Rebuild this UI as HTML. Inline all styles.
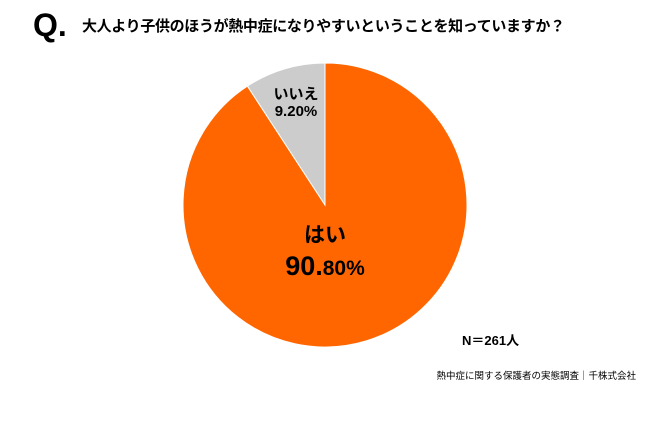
<!DOCTYPE html>
<html><head><meta charset="utf-8"><style>
body{margin:0;background:#fff;}
svg{display:block;font-family:"Liberation Sans","Noto Sans CJK JP",sans-serif;}
</style></head><body>
<svg width="650" height="427" viewBox="0 0 650 427">
<text x="33" y="36" font-size="32" font-weight="bold" fill="#000">Q.</text>
<text x="82" y="31" font-size="15" font-weight="bold" fill="#000" textLength="483">大人より子供のほうが熱中症になりやすいということを知っていますか？</text>
<g id="slices"></g>
<text x="325" y="242" font-size="21" font-weight="bold" text-anchor="middle">はい</text>
<text x="325" y="275" font-size="27" font-weight="bold" text-anchor="middle">90.<tspan font-size="21">80%</tspan></text>
<text x="296" y="99" font-size="15" font-weight="bold" text-anchor="middle">いいえ</text>
<text x="296" y="116" font-size="15" font-weight="bold" text-anchor="middle">9.20%</text>
<text x="462" y="345" font-size="13" font-weight="bold">N＝261人</text>
<text x="636" y="379" font-size="9.5" text-anchor="end">熱中症に関する保護者の実態調査｜千株式会社</text>
</svg>
<script>
const categories=["はい","いいえ"];
const values=[90.8,9.2];
const colors=["#FF6600","#CCCCCC"];
const cx=325,cy=205,r=142;
const g=document.getElementById('slices');
const total=values.reduce((a,b)=>a+b,0);
let a0=0;
values.forEach((v,i)=>{
  const a1=a0+v/total*2*Math.PI;
  const x0=cx+r*Math.sin(a0),y0=cy-r*Math.cos(a0);
  const x1=cx+r*Math.sin(a1),y1=cy-r*Math.cos(a1);
  const large=(a1-a0)>Math.PI?1:0;
  const p=document.createElementNS('http://www.w3.org/2000/svg','path');
  p.setAttribute('d',`M${cx},${cy}L${x0},${y0}A${r},${r} 0 ${large} 1 ${x1},${y1}Z`);
  p.setAttribute('fill',colors[i]);
  p.setAttribute('stroke','#fff');
  p.setAttribute('stroke-width','1');
  
  
  g.appendChild(p);
  a0=a1;
});
</script>
</body></html>
